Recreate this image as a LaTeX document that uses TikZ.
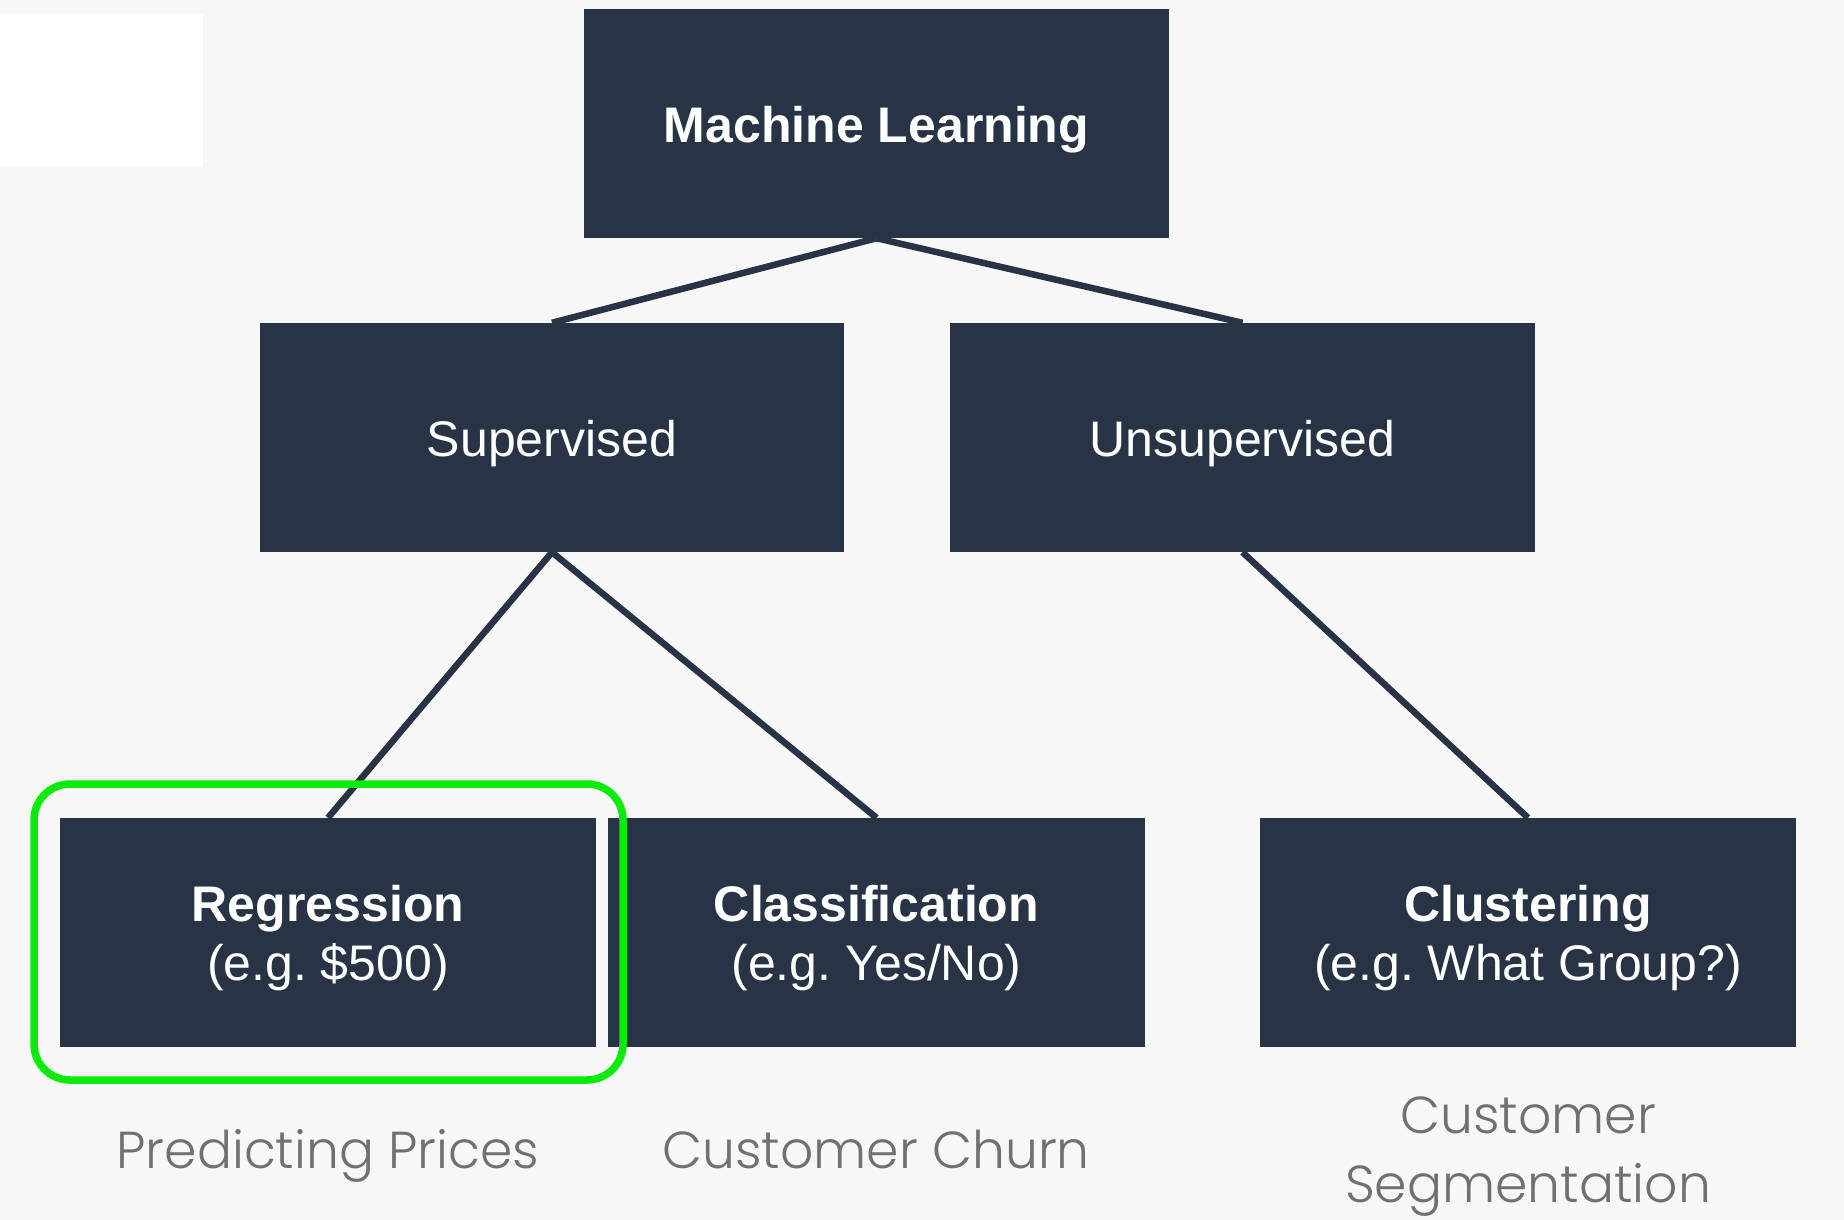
\documentclass[tikz,border=0pt]{standalone}
\usepackage{fontspec}
\setmainfont{Liberation Sans}
\newfontfamily\labelfont{Poppins Light}
\definecolor{navy}{RGB}{40,52,69}
\definecolor{bgc}{RGB}{247,247,247}
\definecolor{lbl}{RGB}{112,112,112}
\definecolor{hl}{RGB}{10,235,10}
\newcommand\bxstrut{\rule{0pt}{48pt}}
\tikzset{
  box/.style={fill=navy, text=white, inner sep=0pt, align=center,
    font=\fontsize{50}{59}\selectfont},
  link/.style={draw=navy, line width=6.5pt},
  caption/.style={text=lbl, align=center, inner sep=0pt,
    font=\labelfont\fontsize{52}{69}\selectfont},
}
\begin{document}
\frenchspacing
\begin{tikzpicture}[x=1pt,y=-1pt]
\useasboundingbox (0,0) rectangle (1844,1220);
\fill[bgc] (0,0) rectangle (1844,1220);
\fill[white] (0,14) rectangle (203,167);
% nodes
\node[box, minimum width=585pt, minimum height=229pt] (ml) at (876.5,123.5) {\bxstrut\textbf{Machine Learning}};
\node[box, minimum width=584pt, minimum height=229pt] (sup) at (552,437.5) {\bxstrut Supervised};
\node[box, minimum width=585pt, minimum height=229pt] (uns) at (1242.5,437.5) {\bxstrut Unsupervised};
\node[box, minimum width=536pt, minimum height=229pt] (reg) at (328,932.5) {\bxstrut\textbf{Regression}\\(e.g. \$500)};
\node[box, minimum width=537pt, minimum height=229pt] (cla) at (876.5,932.5) {\bxstrut\textbf{Classification}\\(e.g. Yes/No)};
\node[box, minimum width=536pt, minimum height=229pt] (clu) at (1528,932.5) {\bxstrut\textbf{Clustering}\\(e.g. What Group?)};
% connectors
\draw[link] (ml.south) -- (sup.north);
\draw[link] (ml.south) -- (uns.north);
\draw[link] (sup.south) -- (reg.north);
\draw[link] (sup.south) -- (cla.north);
\draw[link] (uns.south) -- (clu.north);
% highlight
\draw[hl, line width=7.5pt, rounded corners=36pt] (34,784) rectangle (623,1080);
% captions
\node[caption, anchor=base] (c1) at (328,1168) {Predicting Prices};
\node[caption, anchor=base] (c2) at (876,1168) {Customer Churn};
\node[caption, anchor=base] (c3) at (1528,1202) {Customer\\Segmentation};
\end{tikzpicture}
\end{document}
